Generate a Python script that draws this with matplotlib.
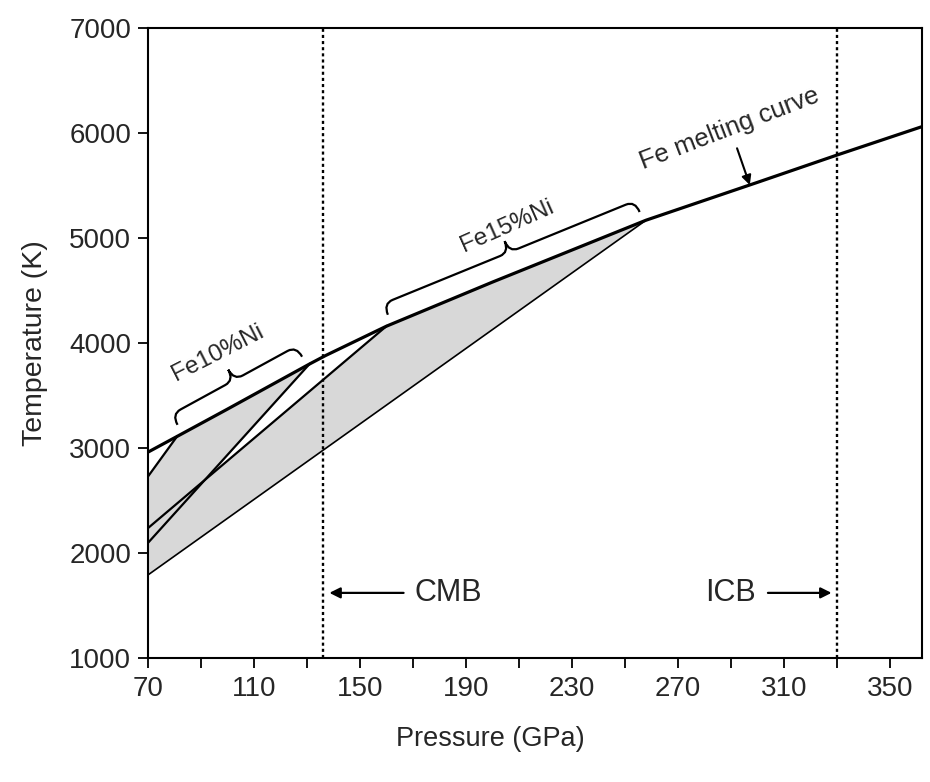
import numpy as np
import matplotlib
matplotlib.use("Agg")
import matplotlib.pyplot as plt
from matplotlib.path import Path
from matplotlib.patches import PathPatch
from matplotlib.transforms import IdentityTransform

plt.rcParams['font.family'] = ['Liberation Sans', 'DejaVu Sans']

# Fe melting curve (pressure GPa, temperature K)
melt_p = [70, 81, 100, 131, 137, 160, 200, 258, 300, 330, 362]
melt_T = [2960, 3110, 3370, 3800, 3880, 4160, 4580, 5170, 5530, 5790, 6060]

# Fe10%Ni boundaries
ni10_left_p = [70, 81]
ni10_left_T = [2727, 3110]
ni10_low_p = [70, 131]
ni10_low_T = [2095, 3800]

# Fe15%Ni boundaries
ni15_up_p = [70, 160]
ni15_up_T = [2236, 4160]
ni15_low_p = [70, 258]
ni15_low_T = [1790, 5170]

cmb_p = 136
icb_p = 330

txt_col = '#262626'

fig = plt.figure(figsize=(9.3, 7.82), dpi=100)
ax = fig.add_axes([0.159, 0.1586, 0.832, 0.8055])

fill_col = '#d8d8d8'

# gray areas: Fe10%Ni
mp = np.array(melt_p)
mT = np.array(melt_T)
sel = (mp >= 81) & (mp <= 131)
poly10_p = [70] + list(mp[sel]) + [70]
poly10_T = [2727] + list(mT[sel]) + [2095]
ax.fill(poly10_p, poly10_T, color=fill_col, lw=0, zorder=1)

# Fe15%Ni
sel = (mp >= 160) & (mp <= 258)
poly15_p = [70] + list(mp[sel]) + [70]
poly15_T = [2236] + list(mT[sel]) + [1790]
ax.fill(poly15_p, poly15_T, color=fill_col, lw=0, zorder=1)

ax.plot(melt_p, melt_T, color='black', lw=2.3, zorder=3)
ax.plot(ni10_left_p, ni10_left_T, color='black', lw=1.6, zorder=3)
ax.plot(ni10_low_p, ni10_low_T, color='black', lw=1.6, zorder=3)
ax.plot(ni15_up_p, ni15_up_T, color='black', lw=1.6, zorder=3)
ax.plot(ni15_low_p, ni15_low_T, color='black', lw=1.2, zorder=3)

ax.axvline(cmb_p, color='black', lw=1.7, ls=(0, (1.3, 1.3)), zorder=2)
ax.axvline(icb_p, color='black', lw=1.7, ls=(0, (1.3, 1.3)), zorder=2)

ax.set_xlim(70, 362)
ax.set_ylim(1000, 7000)
ax.set_xticks(np.arange(70, 362, 40))
ax.set_xticks(np.arange(70, 362, 20), minor=True)
ax.set_yticks(np.arange(1000, 7001, 1000))
ax.tick_params(axis='both', which='both', direction='out', labelsize=20,
               width=1.3, length=7, color='black', labelcolor=txt_col)
ax.tick_params(axis='x', which='major', pad=6)
ax.tick_params(axis='y', which='major', pad=5)
for s in ax.spines.values():
    s.set_linewidth(1.5)

ax.set_xlabel('Pressure (GPa)', fontsize=19.5, color=txt_col)
ax.xaxis.set_label_coords(0.442, -0.108)
ax.set_ylabel('Temperature (K)', fontsize=20.5, labelpad=15, color=txt_col)


def brace(p0, p1, gap=10, h=24, q=10):
    # curly brace drawn above the melting curve between pressures p0 and p1
    fig.canvas.draw()
    a = ax.transData.transform((p0, np.interp(p0, melt_p, melt_T)))
    b = ax.transData.transform((p1, np.interp(p1, melt_p, melt_T)))
    d = b - a
    L = np.hypot(*d)
    eu = d / L
    en = np.array([-eu[1], eu[0]])
    loc = [(0, 0), (0, h / 2), (q, h / 2), (L / 2 - q, h / 2), (L / 2, h / 2),
           (L / 2, h), (L / 2, h / 2), (L / 2 + q, h / 2), (L - q, h / 2),
           (L, h / 2), (L, 0)]
    codes = [Path.MOVETO, Path.CURVE3, Path.CURVE3, Path.LINETO, Path.CURVE3,
             Path.CURVE3, Path.CURVE3, Path.CURVE3, Path.LINETO, Path.CURVE3,
             Path.CURVE3]
    pts = [a + en * gap + eu * u + en * v for u, v in loc]
    ax.add_patch(PathPatch(Path(pts, codes), fc='none', ec='black', lw=1.6,
                           transform=IdentityTransform(), clip_on=False, zorder=4))


brace(83, 130)
brace(162, 257)

ax.text(96.5, 3905, 'Fe10%Ni', fontsize=17.5, rotation=27, ha='center',
        va='center', color=txt_col)
ax.text(205.5, 5115, 'Fe15%Ni', fontsize=17.5, rotation=24, ha='center',
        va='center', color=txt_col)
ax.text(289.5, 6045, 'Fe melting curve', fontsize=18.5, rotation=21,
        ha='center', va='center', color=txt_col)
ax.annotate('', xy=(297.5, 5480), xytext=(292, 5880),
            arrowprops=dict(arrowstyle='-|>', color='black', lw=1.5,
                            mutation_scale=14))

ax.annotate('', xy=(138.5, 1620), xytext=(166.5, 1620),
            arrowprops=dict(arrowstyle='-|>', color='black', lw=1.6,
                            mutation_scale=16, shrinkA=0, shrinkB=0))
ax.text(170.5, 1620, 'CMB', fontsize=22, ha='left', va='center', color=txt_col)
ax.annotate('', xy=(328, 1620), xytext=(304, 1620),
            arrowprops=dict(arrowstyle='-|>', color='black', lw=1.6,
                            mutation_scale=16, shrinkA=0, shrinkB=0))
ax.text(299.5, 1620, 'ICB', fontsize=22, ha='right', va='center', color=txt_col)

fig.savefig('out.png', dpi=100)
